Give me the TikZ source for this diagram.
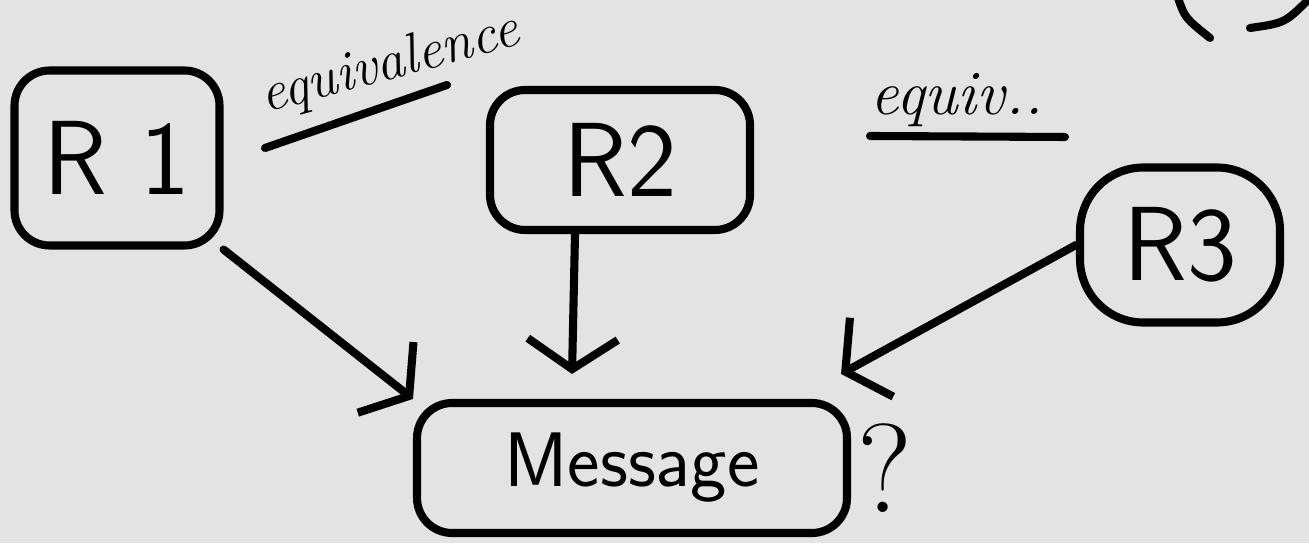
\documentclass[tikz,border=0pt]{standalone}
\usetikzlibrary{arrows.meta}
\begin{document}
\begin{tikzpicture}[line width=2.3pt,line cap=round,
  box/.style={draw,rounded corners=10pt,font=\sffamily\fontsize{30}{34}\selectfont},
  arr/.style={-{Straight Barb[length=3mm,width=9mm]}},
  note/.style={font=\itshape\fontsize{18}{20}\selectfont}]
 \useasboundingbox (0,0) rectangle (13.09,5.43);
 \clip (0,0) rectangle (13.09,5.43);
 \fill[gray!22](0,0) rectangle (13.09,5.43);
 \node[box,minimum width=2.05cm,minimum height=1.75cm](R1) at (1.17,3.85){R 1};
 \node[box,minimum width=2.6cm,minimum height=1.4cm](R2) at (6.2,3.83){R2};
 \node[box,rounded corners=18pt,minimum width=2cm,minimum height=1.55cm](R3) at (11.8,2.98){R3};
 \node[box,font=\sffamily\fontsize{22}{26}\selectfont,minimum width=4.3cm,minimum height=1.3cm](Msg) at (6.32,0.75){Message};
 \node[font=\fontsize{36}{40}\selectfont](q) at (8.85,0.75){?};
 \node[note,font=\itshape\fontsize{16}{18}\selectfont,rotate=15](eq1) at (3.9,4.78){equivalence};
 \draw (2.65,3.95) -- (4.47,4.58);
 \node[note](eq2) at (9.57,4.43){equiv..};
 \draw (8.7,4.07) -- (10.65,4.06);
 \draw[arr](R1.south east) -- (Msg.north west);
 \draw[arr]([xshift=-4.5mm]R2.south) -- ([xshift=-6mm,yshift=2.5mm]Msg.north);
 \draw[arr](R3.west) -- ([xshift=-1mm,yshift=2.5mm]Msg.north east);
 \draw (11.78,5.45) .. controls (11.85,5.25) .. (12.1,5.05);
 \draw (12.5,5.15) .. controls (12.85,5.2) .. (13.1,5.45);
\end{tikzpicture}
\end{document}
